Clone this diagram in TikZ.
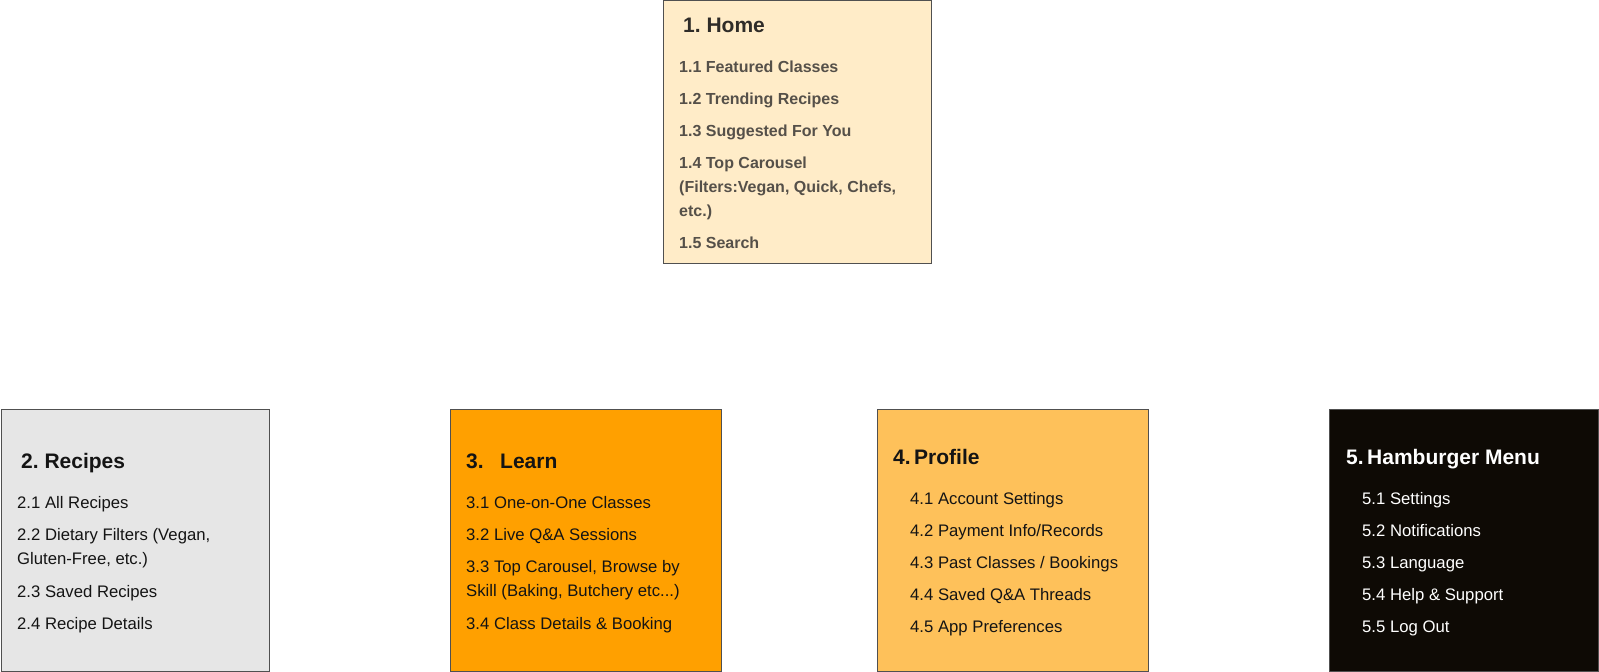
\documentclass[tikz,border=0pt]{standalone}
\usepackage{fontspec}
\setmainfont{Liberation Sans}
\definecolor{homefill}{HTML}{FFECC8}
\definecolor{recfill}{HTML}{E6E6E6}
\definecolor{learnfill}{HTML}{FFA000}
\definecolor{proffill}{HTML}{FEC15A}
\definecolor{menufill}{HTML}{0E0A05}
\definecolor{edge}{HTML}{505050}
\definecolor{hometext}{HTML}{555049}
\definecolor{dark}{HTML}{141414}
\tikzset{
  panel/.style={draw=edge, line width=1pt},
  ttl/.style={anchor=base west, inner sep=0pt, font=\fontsize{21}{25}\selectfont\bfseries, text=dark},
  item/.style={anchor=base west, inner sep=0pt, font=\fontsize{16.7}{20}\selectfont, text=dark},
  hitem/.style={item, font=\fontsize{16}{20}\selectfont\bfseries, text=hometext},
  httl/.style={ttl, text=hometext!55!black},
  witem/.style={item, text=white},
  wttl/.style={ttl, text=white},
}
\begin{document}
\begin{tikzpicture}[x=1pt,y=-1pt]
\useasboundingbox (0,0) rectangle (1599,672);
% panels
\path[panel, fill=homefill] (663,0.5) rectangle (931,263) node[coordinate] (homebox) {};
\path[panel, fill=recfill] (1,409) rectangle (269,671.5) node[coordinate] (recbox) {};
\path[panel, fill=learnfill] (450,409) rectangle (721,671.5) node[coordinate] (learnbox) {};
\path[panel, fill=proffill] (877,409) rectangle (1148,671.5) node[coordinate] (profbox) {};
\path[panel, fill=menufill] (1329,409) rectangle (1598.5,671.5) node[coordinate] (menubox) {};
% 1. Home
\node[httl] (h0) at (683,32) {1.\ Home};
\node[hitem] (h1) at (679,72) {1.1 Featured Classes};
\node[hitem] (h2) at (679,104) {1.2 Trending Recipes};
\node[hitem] (h3) at (679,136) {1.3 Suggested For You};
\node[hitem] (h4a) at (679,168) {1.4 Top Carousel};
\node[hitem] (h4b) at (679,192) {(Filters:Vegan, Quick, Chefs,};
\node[hitem] (h4c) at (679,216) {etc.)};
\node[hitem] (h5) at (679,248) {1.5 Search};
% 2. Recipes
\node[ttl] (r0) at (21,468) {2.\ Recipes};
\node[item] (r1) at (17,508) {2.1 All Recipes};
\node[item] (r2a) at (17,540) {2.2 Dietary Filters (Vegan,};
\node[item] (r2b) at (17,564) {Gluten-Free, etc.)};
\node[item] (r3) at (17,597) {2.3 Saved Recipes};
\node[item] (r4) at (17,629) {2.4 Recipe Details};
% 3. Learn
\node[ttl] (l0) at (466,468) {3.};
\node[ttl] (l0b) at (500,468) {Learn};
\node[item] (l1) at (466,508) {3.1 One-on-One Classes};
\node[item] (l2) at (466,540) {3.2 Live Q\&A Sessions};
\node[item] (l3a) at (466,572) {3.3 Top Carousel, Browse by};
\node[item] (l3b) at (466,596) {Skill (Baking, Butchery etc...)};
\node[item] (l4) at (466,629) {3.4 Class Details \& Booking};
% 4. Profile
\node[ttl] (p0) at (893,464) {4.\,Profile};
\node[item] (p1) at (910,504) {4.1 Account Settings};
\node[item] (p2) at (910,536) {4.2 Payment Info/Records};
\node[item] (p3) at (910,568) {4.3 Past Classes / Bookings};
\node[item] (p4) at (910,600) {4.4 Saved Q\&A Threads};
\node[item] (p5) at (910,632) {4.5 App Preferences};
% 5. Hamburger Menu
\node[wttl] (m0) at (1346,464) {5.\,Hamburger Menu};
\node[witem] (m1) at (1362,504) {5.1 Settings};
\node[witem] (m2) at (1362,536) {5.2 Notifications};
\node[witem] (m3) at (1362,568) {5.3 Language};
\node[witem] (m4) at (1362,600) {5.4 Help \& Support};
\node[witem] (m5) at (1362,632) {5.5 Log Out};
\end{tikzpicture}
\end{document}
